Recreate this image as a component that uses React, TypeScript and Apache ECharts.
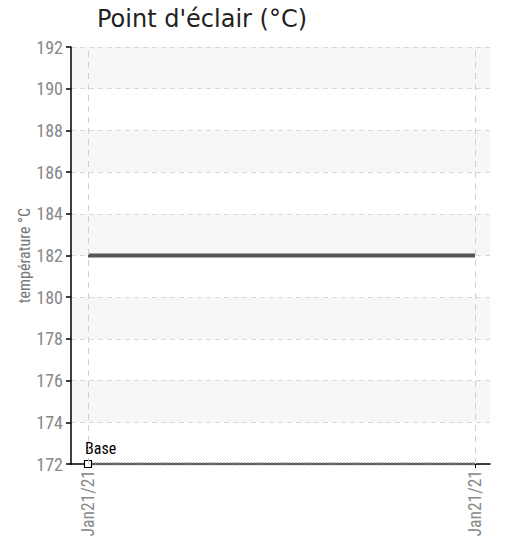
import React, { useEffect, useRef } from "react";
import * as echarts from "echarts";

const title = "Point d'éclair (°C)";
const yAxisName = "température °C";
const xLabels = ["Jan21/21", "Jan21/21"];
const xPositions = [0, 1];
const mainValues = [182, 182];
const baseValues = [172, 172];
const baseLabel = "Base";
const yMin = 172;
const yMax = 192;
const yStep = 2;

const condensed = "'Roboto Condensed', 'DejaVu Sans Condensed', 'Liberation Sans Narrow', sans-serif";

export default function App() {
  const ref = useRef<HTMLDivElement>(null);
  useEffect(() => {
    if (!ref.current) return;
    const chart = echarts.init(ref.current, null, { renderer: "svg" });
    const mainData = xPositions.map((x, i) => [x, mainValues[i]]);
    const baseData = xPositions.map((x, i) => [x, baseValues[i]]);
    chart.setOption({
      animation: false,
      backgroundColor: "#ffffff",
      title: {
        text: title,
        left: 92,
        top: 2,
        textStyle: { fontFamily: "'DejaVu Sans', sans-serif", fontSize: 24, fontWeight: "normal", color: "#222" },
      },
      grid: { left: 71, right: 16, top: 47, bottom: 75, containLabel: false, outerBoundsMode: "none" },
      xAxis: {
        type: "value",
        min: -0.0439,
        max: 1.0388,
        axisLine: { show: true, onZero: false, lineStyle: { color: "#000", width: 1.5 } },
        axisTick: { show: true, customValues: [1], length: 4, inside: false, lineStyle: { color: "#000" } },
        axisLabel: {
          show: true,
          customValues: xPositions,
          rotate: 90,
          margin: 6,
          color: "#888",
          fontSize: 17.5,
          fontFamily: condensed,
          formatter: (v: number) => {
            const i = xPositions.indexOf(Math.round(v));
            return i >= 0 ? xLabels[i] : "";
          },
        },
        splitLine: { show: false },
      },
      yAxis: {
        type: "value",
        min: yMin,
        max: yMax,
        interval: yStep,
        name: yAxisName,
        nameLocation: "middle",
        nameGap: 39,
        nameMoveOverlap: false,
        nameRotate: 90,
        nameTextStyle: { color: "#777", fontSize: 16, fontFamily: condensed },
        axisLine: { show: true, onZero: false, lineStyle: { color: "#000", width: 1.5 } },
        axisTick: { show: true, length: 5, lineStyle: { color: "#000", width: 1.5 } },
        axisLabel: { color: "#888", fontSize: 18, margin: 8, fontFamily: condensed },
        splitLine: { show: true, lineStyle: { color: "#d8d8d8", type: [5, 4], width: 1 } },
        splitArea: { show: true, areaStyle: { color: ["rgba(255,255,255,0)", "#f7f7f7"] } },
      },
      series: [
        {
          type: "line",
          data: mainData,
          symbol: "none",
          lineStyle: { color: "#555", width: 4 },
          markLine: {
            silent: true,
            symbol: "none",
            label: { show: false },
            lineStyle: { color: "#cfcfcf", type: [6, 5], width: 1 },
            data: xPositions.map((x) => ({ xAxis: x })),
          },
          z: 3,
        },
        {
          type: "line",
          data: baseData,
          symbol: (_v: any, p: any) => (p.dataIndex === 0 ? "rect" : "none"),
          symbolSize: 7,
          showAllSymbol: true,
          itemStyle: { color: "#fff", borderColor: "#000", borderWidth: 1.2 },
          lineStyle: { color: "#777", width: 3, type: [2, 1] },
          label: {
            show: true,
            formatter: (p: any) => (p.dataIndex === 0 ? baseLabel : ""),
            position: "top",
            align: "left",
            distance: 3,
            offset: [-3, 0],
            color: "#000",
            fontSize: 16,
            fontFamily: condensed,
          },
          z: 4,
        },
      ],
    });
    return () => chart.dispose();
  }, []);
  return <div ref={ref} style={{ position: "fixed", left: 0, top: 0, width: 506, height: 539 }} />;
}
